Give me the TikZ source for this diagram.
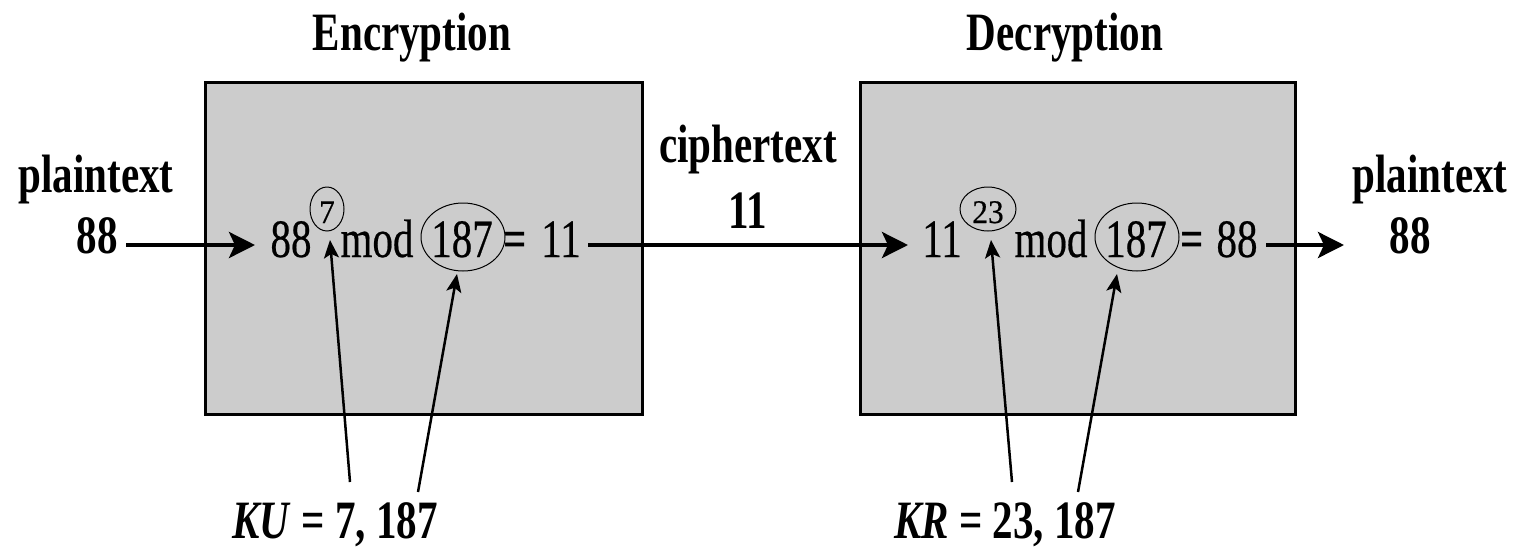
\documentclass[tikz,border=0pt]{standalone}
\usepackage{fontspec}
\setmainfont{Liberation Serif}[FakeStretch=0.76]
\newfontfamily\eqfont{Liberation Serif}[FakeStretch=0.76, FakeBold=0.4]
\newfontfamily\supfont{Liberation Serif}[FakeStretch=0.95, FakeBold=0.4]
\usetikzlibrary{arrows.meta}
\definecolor{boxgray}{RGB}{204,204,204}
\begin{document}
\begin{tikzpicture}[x=1pt,y=-1pt,
  lbl/.style={font=\fontsize{54}{54}\selectfont\bfseries, inner sep=0pt, anchor=base},
  eqtxt/.style={font=\fontsize{54}{54}\selectfont\eqfont, inner sep=0pt, anchor=base},
  eqsign/.style={font=\fontsize{54}{54}\selectfont\bfseries, inner sep=0pt, anchor=base},
  suptxt/.style={font=\fontsize{33}{33}\selectfont\supfont, inner sep=0pt, anchor=base},
  stage/.style={draw=black, fill=boxgray, line width=3pt, inner sep=0pt},
  ring/.style={draw=black, line width=1pt},
  flow/.style={line width=4pt, -{Stealth[length=26pt,width=26pt,inset=6pt]}},
  keyarr/.style={line width=2.5pt, -{Stealth[length=18pt,width=15pt,inset=4pt]}}]

\useasboundingbox (0,0) rectangle (1524,547);

% stage boxes
\node[stage, minimum width=437pt, minimum height=332pt] (enc) at (423.5,248) {};
\node[stage, minimum width=435pt, minimum height=332pt] (dec) at (1077.5,248) {};

% titles
\node[lbl] (enctitle) at (412,50) {Encryption};
\node[lbl] (dectitle) at (1065,50) {Decryption};

% input / output labels
\node[lbl] (ptin) at (96,192) {plaintext};
\node[lbl] (in88) at (97,253) {88};
\node[lbl] (ct) at (748,162) {ciphertext};
\node[lbl] (ct11) at (748,228) {11};
\node[lbl] (ptout) at (1430,192) {plaintext};
\node[lbl] (out88) at (1410,253) {88};

% encryption equation
\node[eqtxt] (e88) at (291,257) {88};
\node[suptxt] (e7) at (327,223) {7};
\node[eqtxt] (emod) at (377,257) {mod};
\node[eqtxt] (e187) at (462,257) {187};
\node[eqsign] (eeq) at (515,257) {=};
\node[eqtxt] (e11) at (561,257) {11};
\draw[ring] (327,209) ellipse [x radius=17pt, y radius=22pt];
\draw[ring] (463,237) ellipse [x radius=42pt, y radius=34pt];

% decryption equation
\node[eqtxt] (d11) at (942,257) {11};
\node[suptxt] (d23) at (988,223) {23};
\node[eqtxt] (dmod) at (1051,257) {mod};
\node[eqtxt] (d187) at (1136,257) {187};
\node[eqsign] (deq) at (1192,257) {=};
\node[eqtxt] (d88) at (1237,257) {88};
\draw[ring] (988,209) ellipse [x radius=28pt, y radius=22pt];
\draw[ring] (1137,237) ellipse [x radius=42pt, y radius=34pt];

% keys
\node[lbl] (ku) at (335,538) {\textit{KU} = 7, 187};
\node[lbl] (kr) at (1005,538) {\textit{KR} = 23, 187};

% flow arrow end points
\coordinate (f1a) at (126,245);
\coordinate (f1b) at (255,245);
\coordinate (f2a) at (588,245);
\coordinate (f2b) at (908,245);
\coordinate (f3a) at (1266,245);
\coordinate (f3b) at (1344,245);
\draw[flow] (f1a) -- (f1b);
\draw[flow] (f2a) -- (f2b);
\draw[flow] (f3a) -- (f3b);

% key arrows
\coordinate (k1a) at (350,482);
\coordinate (k1b) at (330,240);
\coordinate (k2a) at (418,492);
\coordinate (k2b) at (457,274);
\coordinate (k3a) at (1012,482);
\coordinate (k3b) at (991,240);
\coordinate (k4a) at (1078,492);
\coordinate (k4b) at (1117,274);
\draw[keyarr] (k1a) -- (k1b);
\draw[keyarr] (k2a) -- (k2b);
\draw[keyarr] (k3a) -- (k3b);
\draw[keyarr] (k4a) -- (k4b);
\end{tikzpicture}
\end{document}
